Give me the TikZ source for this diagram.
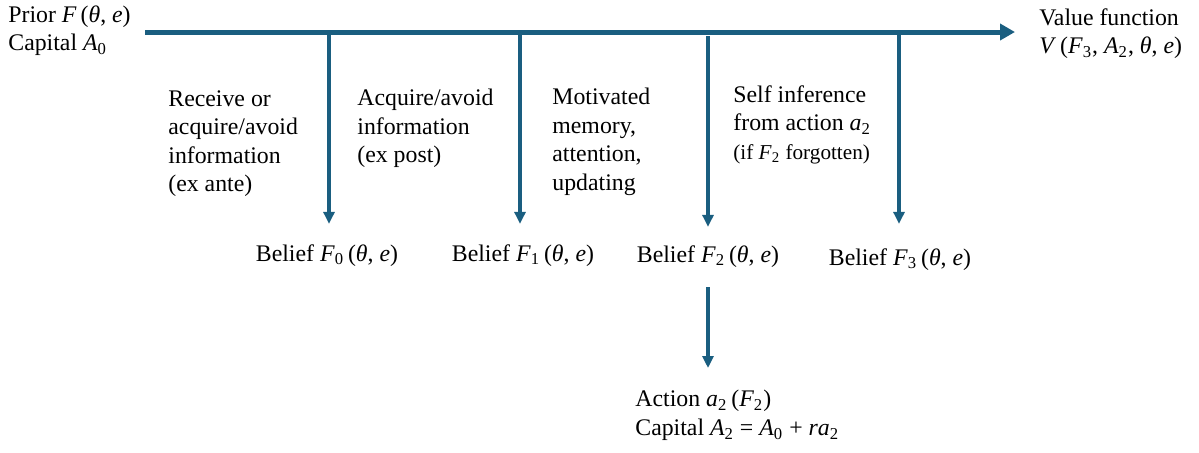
\documentclass[tikz,border=0pt]{standalone}
\usepackage{fontspec}
\setmainfont{LiberationSerif}[Extension=.ttf, UprightFont=*-Regular, ItalicFont=*-Italic, BoldFont=*-Bold, BoldItalicFont=*-BoldItalic]
\usetikzlibrary{arrows.meta, positioning}
\definecolor{timeblue}{RGB}{26,94,128}
\newcommand{\vr}[1]{\textit{#1}}
\newcommand{\ix}[1]{\textsubscript{#1}}
\tikzset{
  stage/.style={anchor=north west, align=left, inner sep=0pt},
  belief/.style={anchor=base, inner sep=0pt},
  timeline/.style={timeblue, line width=2.5pt, -{Triangle[length=7.5pt,width=8pt]}},
  drop/.style={timeblue, line width=2pt, -{Triangle[length=6pt,width=5.5pt]}}
}

\begin{document}
\begin{tikzpicture}[x=0.5pt, y=-0.5pt, font=\fontsize{11.9}{14.25}\selectfont]
\useasboundingbox (0,0) rectangle (1199,452);
\coordinate (start) at (145,32);
\coordinate (end) at (1015,32);
\coordinate (j0) at (329,32);
\coordinate (j1) at (520,32);
\coordinate (j2) at (708,36);
\coordinate (j3) at (899,32);
\node[stage] (prior) at (8,5) {Prior \vr{F}\,(\vr{θ}, \vr{e})\\Capital \vr{A}\ix{0}};
\node[stage] (value) at (1039,8) {Value function\\\vr{V}\,(\vr{F}\ix{3}, \vr{A}\ix{2}, \vr{θ}, \vr{e})};
\node[stage] (exante) at (168,90) {Receive or\\acquire/avoid\\information\\(ex ante)};
\node[stage] (expost) at (357,89) {Acquire/avoid\\information\\(ex post)};
\node[stage] (memory) at (552,88) {Motivated\\memory,\\attention,\\updating};
\node[stage] (infer) at (733,85) {Self inference\\from action \vr{a}\ix{2}\\{\fontsize{10.6}{14.25}\selectfont(if \vr{F}\ix{2} forgotten)}};
\node[belief] (b0) at (327,261) {Belief \vr{F}\ix{0}\,(\vr{θ}, \vr{e})};
\node[belief] (b1) at (523,261) {Belief \vr{F}\ix{1}\,(\vr{θ}, \vr{e})};
\node[belief] (b2) at (708,262) {Belief \vr{F}\ix{2}\,(\vr{θ}, \vr{e})};
\node[belief] (b3) at (900,265) {Belief \vr{F}\ix{3}\,(\vr{θ}, \vr{e})};
\node[stage] (action) at (635,390) {Action \vr{a}\ix{2}\,(\vr{F}\ix{2})\\Capital \vr{A}\ix{2} = \vr{A}\ix{0} + \vr{ra}\ix{2}};
\draw[timeline] (start) -- (end);
\draw[drop, shorten >=10pt] (j0) -- (j0 |- b0.north);
\draw[drop, shorten >=10pt] (j1) -- (j1 |- b1.north);
\draw[drop, shorten >=9pt] (j2) -- (j2 |- b2.north);
\draw[drop, shorten >=12pt] (j3) -- (j3 |- b3.north);
\draw[drop, shorten <=10pt, shorten >=11pt] (b2.south) -- (b2.south |- action.north);
\end{tikzpicture}
\end{document}
